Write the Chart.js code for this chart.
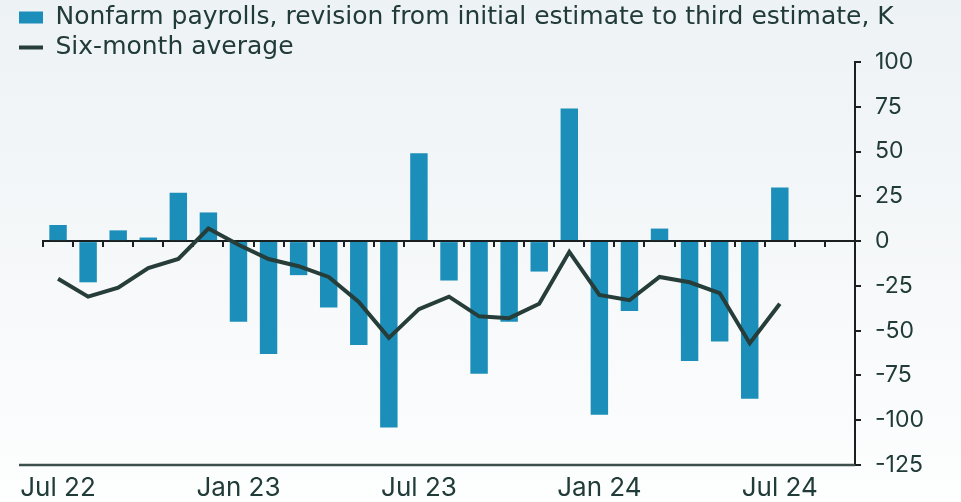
<!DOCTYPE html>
<html>
<head>
<meta charset="utf-8">
<script src="https://cdn.jsdelivr.net/npm/chart.js@4.4.1/dist/chart.umd.min.js"></script>
<style>
  body { margin: 0; background: linear-gradient(to bottom, #edf2f5 0%, #f7f9fa 60%, #fdfefe 100%); }
  #wrap { width: 961px; height: 502px; position: relative; }
</style>
</head>
<body>
<div id="wrap"><canvas id="chart"></canvas></div>
<script>
// monthly categories, Aug/Sep 24 left empty as spacing on the right
const months = ['Jul 22', 'Aug 22', 'Sep 22', 'Oct 22', 'Nov 22', 'Dec 22',
    'Jan 23', 'Feb 23', 'Mar 23', 'Apr 23', 'May 23', 'Jun 23',
    'Jul 23', 'Aug 23', 'Sep 23', 'Oct 23', 'Nov 23', 'Dec 23',
    'Jan 24', 'Feb 24', 'Mar 24', 'Apr 24', 'May 24', 'Jun 24',
    'Jul 24', 'Aug 24', 'Sep 24'];

// revision from initial to third estimate, thousands
const revisions = [9, -23, 6, 2, 27, 16, -45, -63, -19, -37, -58, -104,
    49, -22, -74, -45, -17, 74, -97, -39, 7, -67, -56, -88, 30];

const sixMonthAvg = [-21, -31, -26, -15, -10, 7, -2, -10, -14, -20, -34, -54,
    -38, -31, -42, -43, -35, -6, -30, -33, -20, -23, -29, -57, -35];

const yTicks = { min: -125, max: 100, step: 25 };

const barColor = '#1b8fba';
const lineColor = '#263d3a';
const textColor = '#213b38';
const axisColor = '#1c1f1f';

// long baseline under the plot, runs a bit past the left edge
const baseLine = {
    id: 'baseLine',
    afterDraw(chart) {
        const ctx = chart.ctx;
        const area = chart.chartArea;
        ctx.save();
        ctx.strokeStyle = '#3c4f4b';
        ctx.lineWidth = 2.5;
        ctx.beginPath();
        ctx.moveTo(area.left - 24, area.bottom);
        ctx.lineTo(area.right, area.bottom);
        ctx.stroke();
        ctx.restore();
    }
};

const ctx = document.getElementById('chart').getContext('2d');
new Chart(ctx, {
    type: 'bar',
    data: {
        labels: months,
        datasets: [{
            label: 'Nonfarm payrolls, revision from initial estimate to third estimate, K',
            data: revisions,
            backgroundColor: barColor,
            borderWidth: 0,
            pointStyle: 'rect',
            categoryPercentage: 1,
            barPercentage: 0.58,
            order: 1
        }, {
            type: 'line',
            label: 'Six-month average',
            data: sixMonthAvg,
            borderColor: lineColor,
            backgroundColor: lineColor,
            borderWidth: 4,
            pointRadius: 0,
            pointStyle: 'line',
            tension: 0,
            order: 0
        }]
    },
    options: {
        responsive: true,
        maintainAspectRatio: false,
        animation: false,
        layout: { padding: { left: 14, top: 0, right: 0, bottom: 0 } },
        plugins: {
            tooltip: { enabled: false },
            legend: {
                position: 'top',
                align: 'start',
                maxHeight: 62,
                labels: {
                    usePointStyle: true,
                    pointStyleWidth: 24,
                    boxHeight: 12,
                    padding: 5,
                    color: textColor,
                    font: { family: 'DejaVu Sans', size: 25 },
                    sort: (a, b) => a.datasetIndex - b.datasetIndex
                }
            }
        },
        scales: {
            x: {
                offset: true,
                grid: { display: false, drawTicks: false },
                border: { display: false },
                ticks: {
                    autoSkip: false,
                    maxRotation: 0,
                    padding: 8,
                    color: textColor,
                    font: { family: 'Inter', size: 26 },
                    callback: function (value, index) {
                        return index % 6 === 0 ? this.getLabelForValue(value) : '';
                    }
                },
                afterFit(scale) { scale.height = 37; }
            },
            // zero line with month ticks
            x0: {
                type: 'category',
                axis: 'x',
                position: { y: 0 },
                offset: true,
                z: 1,
                grid: {
                    offset: true,
                    drawOnChartArea: false,
                    tickLength: 5,
                    color: axisColor,
                    lineWidth: 2
                },
                border: { color: axisColor, width: 2 },
                ticks: { display: false }
            },
            y: {
                position: 'right',
                min: yTicks.min,
                max: yTicks.max,
                grid: {
                    drawOnChartArea: false,
                    tickLength: 6,
                    color: axisColor,
                    lineWidth: 2
                },
                border: { color: axisColor, width: 2 },
                ticks: {
                    stepSize: yTicks.step,
                    padding: 14,
                    color: textColor,
                    font: { family: 'Inter', size: 23 }
                },
                afterFit(scale) { scale.width = 106; }
            },
            // spacer on the left so the plot starts after the legend inset
            yl: {
                type: 'linear',
                position: 'left',
                grid: { display: false },
                border: { display: false },
                ticks: { display: false },
                afterFit(scale) { scale.width = 29; }
            }
        }
    },
    plugins: [baseLine]
});
</script>
</body>
</html>
